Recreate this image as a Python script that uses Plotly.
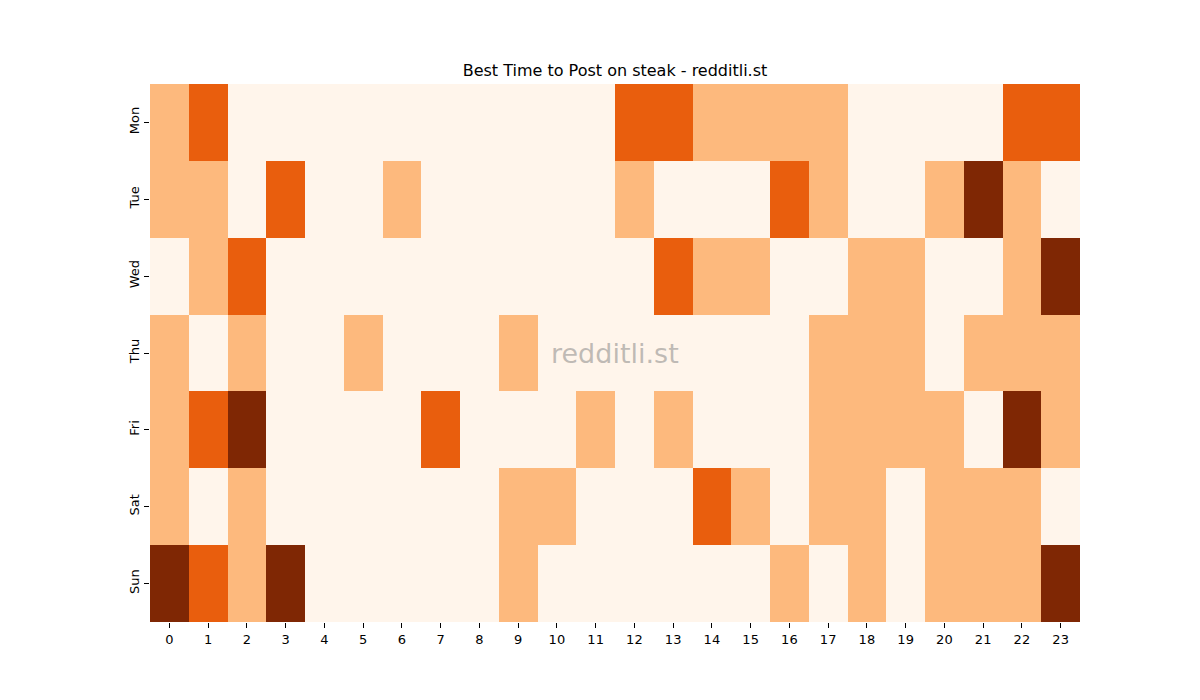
import plotly.graph_objects as go

days = ["Mon", "Tue", "Wed", "Thu", "Fri", "Sat", "Sun"]
hours = list(range(24))

mon = [1, 2, 0, 0, 0, 0, 0, 0, 0, 0, 0, 0, 2, 2, 1, 1, 1, 1, 0, 0, 0, 0, 2, 2]
tue = [1, 1, 0, 2, 0, 0, 1, 0, 0, 0, 0, 0, 1, 0, 0, 0, 2, 1, 0, 0, 1, 3, 1, 0]
wed = [0, 1, 2, 0, 0, 0, 0, 0, 0, 0, 0, 0, 0, 2, 1, 1, 0, 0, 1, 1, 0, 0, 1, 3]
thu = [1, 0, 1, 0, 0, 1, 0, 0, 0, 1, 0, 0, 0, 0, 0, 0, 0, 1, 1, 1, 0, 1, 1, 1]
fri = [1, 2, 3, 0, 0, 0, 0, 2, 0, 0, 0, 1, 0, 1, 0, 0, 0, 1, 1, 1, 1, 0, 3, 1]
sat = [1, 0, 1, 0, 0, 0, 0, 0, 0, 1, 1, 0, 0, 0, 2, 1, 0, 1, 1, 0, 1, 1, 1, 0]
sun = [3, 2, 1, 3, 0, 0, 0, 0, 0, 1, 0, 0, 0, 0, 0, 0, 1, 0, 1, 0, 1, 1, 1, 3]

z = [mon, tue, wed, thu, fri, sat, sun]

colors = ["#fff5eb", "#fdb97d", "#e95e0d", "#7f2704"]
colorscale = [[0, colors[0]], [1/3, colors[1]], [2/3, colors[2]], [1, colors[3]]]

fig = go.Figure(go.Heatmap(
    z=z, x=hours, y=days,
    colorscale=colorscale, zmin=0, zmax=3,
    showscale=False, xgap=0, ygap=0,
    hovertemplate="%{y} %{x}:00<br>%{z}<extra></extra>",
))

fig.update_layout(
    width=1200, height=700,
    margin=dict(l=142, r=128, t=76, b=86),
    paper_bgcolor="white", plot_bgcolor="white",
    font=dict(family="DejaVu Sans", size=13, color="black"),
    title=dict(text="Best Time to Post on steak - redditli.st",
               x=(615 - 8) / 1200, xanchor="center", y=1 - 62/700, yanchor="middle",
               font=dict(family="DejaVu Sans", size=16, color="black")),
    xaxis=dict(tickmode="array", tickvals=hours, ticktext=[str(h) for h in hours],
               ticks="outside", ticklen=5, tickcolor="black", showgrid=False,
               zeroline=False, showline=False, range=[-0.5, 23.5]),
    yaxis=dict(autorange="reversed", ticks="outside", ticklen=5, tickcolor="black",
               tickangle=-90, showgrid=False, zeroline=False, showline=False),
    annotations=[dict(text="redditli.st", x=0.5, y=0.5, xref="paper", yref="paper",
                      showarrow=False,
                      font=dict(family="DejaVu Sans", size=27, color="rgba(128,128,128,0.5)"))],
)

fig.write_html("out.html")
